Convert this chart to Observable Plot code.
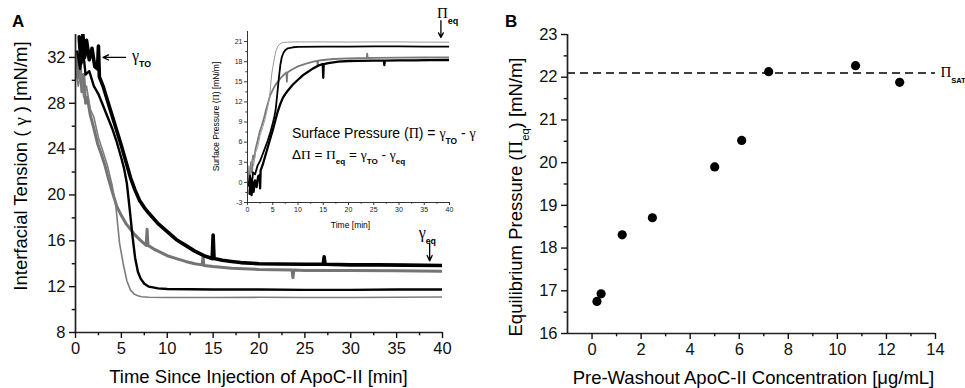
<!DOCTYPE html>
<html><head><meta charset="utf-8">
<script src="https://cdn.jsdelivr.net/npm/d3@7"></script>
<script src="https://cdn.jsdelivr.net/npm/@observablehq/plot@0.6"></script>
<style>
body{margin:0;background:#fff;}
#wrap{position:relative;width:965px;height:388px;overflow:hidden;background:#fff;}
</style></head><body><div id="wrap"></div>
<script>
const SANS = '"Liberation Sans", Arial, Helvetica, sans-serif';
const SERIF = '"Liberation Serif", "Times New Roman", serif';

// ---------- Panel A data: interfacial tension traces (time [min], gamma [mN/m]) ----------
const tBlackSlow = [0.4,0.6,0.8,1.0,1.2,1.5,1.8,2.1,2.4,2.5,2.6,3.0,3.5,4,4.5,5,5.5,6,6.5,7,7.5,8,9,10,11,12,13,14,14.9,15,15.1,16,17,18,20,22,25,27,27.1,27.2,30,33,36,40];
const gBlackSlow = [33.8,31.5,34.0,32.0,33.5,31.8,32.8,31.2,31.0,33.0,30.3,29.5,28.2,26.9,25.6,24.3,22.9,21.5,20.4,19.5,18.9,18.4,17.5,16.8,16.1,15.6,15.1,14.7,14.45,16.5,14.45,14.3,14.2,14.1,14.0,13.97,13.95,13.95,14.6,13.95,13.9,13.9,13.88,13.85];
const tGraySlow = [0.1,0.3,0.5,0.7,0.9,1.1,1.3,1.6,2,2.4,2.8,3.2,3.6,4,4.5,5,5.5,6,6.5,7,7.7,7.8,7.9,8.5,9,10,11,12,13,13.8,13.9,14,15,17,20,23.6,23.7,23.8,25,30,35,40];
const gGraySlow = [32.5,30.2,31.5,29.0,30.5,28.0,28.5,27.0,25.8,24.5,23.6,22.6,21.4,20.3,19.0,18.2,17.5,17.0,16.5,16.1,15.6,17.0,15.6,15.3,15.1,14.7,14.45,14.2,14.0,13.9,14.6,13.85,13.75,13.6,13.5,13.45,12.8,13.45,13.42,13.4,13.38,13.35];
const tBlackFast = [0.2,0.5,0.8,1.1,1.5,2,2.5,3,3.5,4,4.5,5,5.3,5.6,5.9,6.2,6.5,6.8,7.1,7.5,8,9,10,15,20,25,30,35,40];
const gBlackFast = [32.5,31.0,32.8,30.5,30.8,29.5,28.8,27.8,26.8,25.8,24.6,23.2,22.3,21.0,18.8,16.5,14.5,13.3,12.7,12.25,12.0,11.85,11.8,11.75,11.75,11.72,11.72,11.75,11.75];
const tGrayFast = [0,0.3,0.6,0.9,1.2,1.6,2,2.5,3,3.5,4,4.4,4.8,5.2,5.6,6,6.4,6.8,7.2,8,10,15,20,25,30,35,40];
const gGrayFast = [31.0,29.5,30.8,28.5,29.5,27.5,26.8,25.0,23.8,22.5,20.8,19.0,15.8,14.0,12.5,11.7,11.35,11.2,11.12,11.08,11.05,11.05,11.07,11.05,11.05,11.08,11.1];
// initial tension gamma_TO of each trace (inset: Pi = gamma_TO - gamma)
const traceNames = ["graySlow","grayFast","blackFast","blackSlow"];
const gammaTO = [32.0, 32.0, 32.0, 32.1];

const xTicksA = [0,5,10,15,20,25,30,35,40];
const xMinorA = [2.5,7.5,12.5,17.5,22.5,27.5,32.5,37.5];
const yTicksA = [8,12,16,20,24,28,32];
const yMinorA = [10,14,18,22,26,30];

const xTicksI = [0,5,10,15,20,25,30,35,40];
const xMinorI = [2.5,7.5,12.5,17.5,22.5,27.5,32.5,37.5];
const yTicksI = [-3,0,3,6,9,12,15,18,21];
const yMinorI = [-1.5,1.5,4.5,7.5,10.5,13.5,16.5,19.5];

// ---------- Panel B data ----------
const concB = [0.2,0.37,1.23,2.46,5.0,6.1,7.2,10.74,12.54];
const piEqB = [16.75,16.93,18.31,18.71,19.9,20.52,22.13,22.27,21.88];
const piSAT = [22.1];
const xTicksB = [0,2,4,6,8,10,12,14];
const xMinorB = [1,3,5,7,9,11,13];
const yTicksB = [16,17,18,19,20,21,22,23];
const yMinorB = [16.5,17.5,18.5,19.5,20.5,21.5,22.5];

// ---------- build ----------
const series = [
  {t: tGraySlow, g: gGraySlow, color: "#747474", w: 3.0, icolor: "#7a7a7a", iw: 1.8},
  {t: tGrayFast, g: gGrayFast, color: "#7c7c7c", w: 1.6, icolor: "#9a9a9a", iw: 1.0},
  {t: tBlackFast, g: gBlackFast, color: "#000", w: 2.4, icolor: "#000", iw: 1.8},
  {t: tBlackSlow, g: gBlackSlow, color: "#000", w: 3.6, icolor: "#000", iw: 2.3}
];
const rows = series.map((s, k) => s.t.map((t, i) => ({t, g: s.g[i], pi: gammaTO[k] - s.g[i], name: traceNames[k]})));

const fmt = d => String(d);
function axisMarks(axis, major, minor, size, extra = {}) {
  const A = axis === "x" ? Plot.axisX : Plot.axisY;
  return [
    A({ticks: major, tickSize: size, tickPadding: extra.pad ?? 3, fontSize: extra.fs, tickFormat: fmt, label: null, strokeWidth: extra.sw ?? 1.4}),
    A({ticks: minor, tickSize: size * 0.55, tickFormat: () => "", label: null, strokeWidth: extra.sw ?? 1.4})
  ];
}

const wrap = document.getElementById("wrap");

const figA = Plot.plot({
  width: 480, height: 388,
  marginLeft: 75, marginRight: 38, marginTop: 34, marginBottom: 56,
  style: {position: "absolute", left: "0px", top: "0px", fontFamily: SANS, fontSize: "16.5px", background: "transparent", overflow: "visible", color: "#111"},
  x: {domain: [0, 40], label: null},
  y: {domain: [8, 34], label: null},
  marks: [
    ...series.map((s, k) => Plot.line(rows[k], {x: "t", y: "g", stroke: s.color, strokeWidth: s.w, strokeLinejoin: "round", clip: true})),
    Plot.ruleX([0], {stroke: "#222", strokeWidth: 1.7}),
    Plot.ruleY([8], {stroke: "#222", strokeWidth: 1.7}),
    ...axisMarks("x", xTicksA, xMinorA, 6, {fs: 16.5, pad: 4}),
    ...axisMarks("y", yTicksA, yMinorA, 6, {fs: 16.5, pad: 4}),
    Plot.arrow([{x1: 5.45, y1: 32, x2: 3.0, y2: 32}, {x1: 38.6, y1: 15.8, x2: 38.6, y2: 14.25}],
      {x1: "x1", y1: "y1", x2: "x2", y2: "y2", stroke: "#000", strokeWidth: 1.3, headLength: 7, headAngle: 50})
  ]
});
wrap.appendChild(figA);

const figI = Plot.plot({
  width: 260, height: 230,
  marginLeft: 47, marginRight: 11, marginTop: 31, marginBottom: 28,
  style: {position: "absolute", left: "200px", top: "0px", fontFamily: SANS, fontSize: "7px", background: "transparent", overflow: "visible", color: "#222"},
  x: {domain: [0, 40], label: null},
  y: {domain: [-3, 22.5], label: null},
  marks: [
    ...series.map((s, k) => Plot.line(rows[k], {x: "t", y: "pi", stroke: s.icolor, strokeWidth: s.iw, strokeLinejoin: "round", clip: true})),
    Plot.ruleX([0], {stroke: "#333", strokeWidth: 1}),
    Plot.ruleY([-3], {stroke: "#333", strokeWidth: 1}),
    ...axisMarks("x", xTicksI, xMinorI, 3, {fs: 7, pad: 2, sw: 0.9}),
    ...axisMarks("y", yTicksI, yMinorI, 3, {fs: 7, pad: 2, sw: 0.9}),
    Plot.arrow([{x1: 38.3, y1: 24.1, x2: 38.3, y2: 21.6}],
      {x1: "x1", y1: "y1", x2: "x2", y2: "y2", stroke: "#000", strokeWidth: 1.3, headLength: 6, headAngle: 55})
  ]
});
wrap.appendChild(figI);

const figB = Plot.plot({
  width: 485, height: 388,
  marginLeft: 87, marginRight: 30, marginTop: 34, marginBottom: 55,
  style: {position: "absolute", left: "480px", top: "0px", fontFamily: SANS, fontSize: "16.5px", background: "transparent", overflow: "visible", color: "#111"},
  x: {domain: [-1, 14], label: null},
  y: {domain: [16, 23], label: null},
  marks: [
    Plot.ruleY(piSAT, {stroke: "#000", strokeWidth: 1.5, strokeDasharray: "8,5"}),
    Plot.ruleX([-1], {stroke: "#222", strokeWidth: 1.7}),
    Plot.ruleY([16], {stroke: "#222", strokeWidth: 1.7}),
    ...axisMarks("x", xTicksB, xMinorB, 6, {fs: 16.5, pad: 4}),
    ...axisMarks("y", yTicksB, yMinorB, 6, {fs: 16.5, pad: 4}),
    Plot.dot(concB.map((c, i) => ({c, p: piEqB[i]})), {x: "c", y: "p", r: 4.6, fill: "#000", stroke: "none"})
  ]
});
wrap.appendChild(figB);

// ---------- rich text helper ----------
function rich(svg, x, y, parts, {size = 16, anchor = "start", rotate = 0, weight = "normal"} = {}) {
  const t = d3.select(svg).append("text")
    .attr("x", x).attr("y", y).attr("font-size", size).attr("text-anchor", anchor)
    .attr("fill", "#000").attr("font-family", SANS).attr("font-weight", weight);
  if (rotate) t.attr("transform", `rotate(${rotate},${x},${y})`);
  let shift = 0;
  for (const p of parts) {
    const s = t.append("tspan").text(p.t);
    const target = p.sub ? size * 0.38 : 0;
    if (target !== shift) { s.attr("dy", target - shift); shift = target; }
    if (p.serif) s.attr("font-family", SERIF);
    if (p.sub) s.attr("font-size", size * (p.subSize || 0.6));
    if (p.bold) s.attr("font-weight", "bold");
    if (p.size) s.attr("font-size", p.size);
  }
  return t;
}

const xA = figA.scale("x"), yA = figA.scale("y");
const xI = figI.scale("x"), yI = figI.scale("y");
const xB = figB.scale("x"), yB = figB.scale("y");

// Panel letters
rich(figA, 12, 27, [{t: "A"}], {size: 17, weight: "bold"});
rich(figB, 25, 27, [{t: "B"}], {size: 17, weight: "bold"});

// Panel A titles
rich(figA, xA.apply(20), 383, [{t: "Time Since Injection of ApoC-II [min]"}], {size: 18.5, anchor: "middle"});
rich(figA, 27, 166, [{t: "Interfacial Tension ("}, {t: " γ ", serif: true, size: 19.5}, {t: ") [mN/m]"}], {size: 18.5, anchor: "middle", rotate: -90});

// gamma_TO & gamma_eq annotations
rich(figA, xA.apply(6.2), yA.apply(32) + 4, [{t: "γ", serif: true}, {t: "TO", sub: true, bold: true, subSize: 0.55}], {size: 16});
rich(figA, xA.apply(38.4), yA.apply(15.8) - 5, [{t: "γ", serif: true}, {t: "eq", sub: true, bold: true, subSize: 0.55}], {size: 16, anchor: "middle"});

// Inset titles / equations
rich(figI, xI.apply(20.5), 228, [{t: "Time [min]"}], {size: 8.5, anchor: "middle"});
rich(figI, 19, yI.apply(9.75), [{t: "Surface Pressure ("}, {t: "Π", serif: true}, {t: ") [mN/m]"}], {size: 8.5, anchor: "middle", rotate: -90});
rich(figI, xI.apply(8.9), yI.apply(6.5), [{t: "Surface Pressure ("}, {t: "Π", serif: true}, {t: ") = "}, {t: "γ", serif: true}, {t: "TO", sub: true, bold: true}, {t: " - "}, {t: "γ", serif: true}], {size: 14});
rich(figI, xI.apply(8.9), yI.apply(3.4), [{t: "Δ"}, {t: "Π", serif: true}, {t: " = "}, {t: "Π", serif: true}, {t: "eq", sub: true, bold: true}, {t: " = "}, {t: "γ", serif: true}, {t: "TO", sub: true, bold: true}, {t: " - "}, {t: "γ", serif: true}, {t: "eq", sub: true, bold: true}], {size: 13.5});
rich(figI, xI.apply(37.6), yI.apply(24.1) - 2, [{t: "Π", serif: true}, {t: "eq", sub: true, bold: true, subSize: 0.6}], {size: 15});

// Panel B titles
rich(figB, xB.apply(6.6), 384, [{t: "Pre-Washout ApoC-II Concentration [μg/mL]"}], {size: 18.5, anchor: "middle"});
rich(figB, 42, 197, [{t: "Equilibrium Pressure ("}, {t: "Π", serif: true, size: 19}, {t: "eq", sub: true, subSize: 0.6}, {t: ") [mN/m]"}], {size: 18.5, anchor: "middle", rotate: -90});
rich(figB, xB.apply(14.22), yB.apply(piSAT[0]) + 5, [{t: "Π", serif: true}, {t: "SAT", sub: true, bold: true, subSize: 0.5}], {size: 15});
</script></body></html>
